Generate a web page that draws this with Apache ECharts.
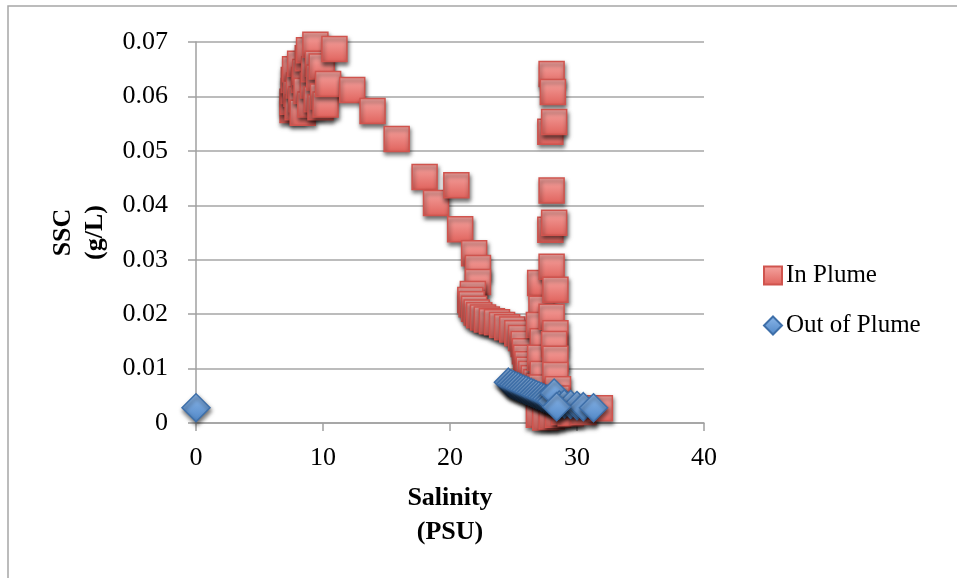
<!DOCTYPE html>
<html>
<head>
<meta charset="utf-8">
<script src="https://cdn.jsdelivr.net/npm/echarts@6/dist/echarts.min.js"></script>
<style>html,body{margin:0;padding:0;background:#fff}#c{width:957px;height:578px}</style>
</head>
<body>
<div id="c"></div>
<script>
// Data: [salinity (PSU), SSC (g/L)]
var inPlume = [
  [7.6,0.0575],[7.6,0.0590],[7.7,0.0610],[7.7,0.0630],[7.8,0.0650],[7.9,0.0605],[8.0,0.0580],
  [8.1,0.0620],[8.2,0.0660],[8.3,0.0595],[8.4,0.0570],[8.5,0.0630],[8.6,0.0645],[8.7,0.0610],
  [8.8,0.0670],[8.9,0.0685],[9.0,0.0585],[9.1,0.0702],[9.2,0.0620],[9.3,0.0650],[9.4,0.0695],
  [9.5,0.0595],[9.6,0.0660],[9.7,0.0635],[9.8,0.0580],[9.9,0.0655],[10.0,0.0600],[10.2,0.0585],
  [10.4,0.0623],[10.9,0.0687],[12.3,0.0612],[13.9,0.0573],[15.8,0.0522],[18.0,0.0452],
  [18.9,0.0404],[20.5,0.0437],[20.8,0.0356],[21.9,0.0312],[22.2,0.0285],[22.2,0.0259],
  [21.8,0.0237],[21.6,0.0226],[21.7,0.0218],[21.9,0.0210],[22.1,0.0203],[22.3,0.0198],
  [22.6,0.0194],[22.9,0.0190],[23.3,0.0187],[23.7,0.0185],[24.1,0.0180],[24.5,0.0176],
  [24.9,0.0172],[25.3,0.0165],[25.6,0.0156],[25.8,0.0145],[25.9,0.0132],[26.0,0.0120],
  [26.1,0.0108],[26.2,0.0098],[26.4,0.0090],[26.6,0.0082],[26.8,0.0075],[27.0,0.0068],
  [27.1,0.0060],[27.1,0.0257],[27.2,0.0210],[27.0,0.0180],[27.3,0.0150],[27.1,0.0120],
  [27.3,0.0090],[27.2,0.0065],
  [28.0,0.0641],[28.1,0.0608],[27.9,0.0535],[28.2,0.0553],[28.0,0.0427],[27.9,0.0355],
  [28.2,0.0368],[28.0,0.0287],[28.3,0.0245],[28.0,0.0195],[28.3,0.0165],[28.2,0.0145],
  [28.3,0.0118],[28.3,0.0088],[28.5,0.0062],[28.4,0.0045],
  [27.0,0.0015],[27.5,0.0010],[28.0,0.0012],[28.5,0.0015],[29.0,0.0020],[29.5,0.0018],
  [30.5,0.0020],[31.8,0.0027]
];
var outPlume = [
  [0.0,0.0028],
  [24.6,0.0075],[24.8,0.0072],[25.0,0.0070],[25.2,0.0068],[25.4,0.0066],[25.6,0.0064],
  [25.8,0.0062],[26.0,0.0060],[26.2,0.0058],[26.4,0.0056],[26.6,0.0054],[26.8,0.0052],
  [27.0,0.0050],[27.2,0.0048],[27.4,0.0046],[27.6,0.0044],[27.8,0.0042],[28.0,0.0040],
  [28.2,0.0055],[28.6,0.0033],[29.0,0.0035],[29.5,0.0034],[30.0,0.0032],[30.5,0.0030],
  [28.4,0.0030],[31.3,0.0028]
];
var xTicks = [0,10,20,30,40];
var yTicks = ['0','0.01','0.02','0.03','0.04','0.05','0.06','0.07'];
var seriesNames = ['In Plume','Out of Plume'];

var FONT = '"Liberation Serif", "DejaVu Serif", serif';
var chart = echarts.init(document.getElementById('c'), null, {renderer:'canvas'});
var redFill = new echarts.graphic.LinearGradient(0,0,0,1,[{offset:0,color:'#f5a6a2'},{offset:1,color:'#e0625c'}]);
var blueFill = new echarts.graphic.LinearGradient(0,0,0,1,[{offset:0,color:'#8db8ea'},{offset:1,color:'#4f86c6'}]);
chart.setOption({
  animation:false,
  backgroundColor:'#ffffff',
  graphic:[{type:'rect',shape:{x:8,y:6,width:1200,height:1200},style:{fill:'none',stroke:'#a6a6a6',lineWidth:1.5},silent:true}],
  grid:{left:196,top:42,width:508,height:381,containLabel:false},
  legend:{
    orient:'vertical',left:758,top:258,itemWidth:18,itemHeight:18,itemGap:25,
    textStyle:{fontFamily:FONT,fontSize:25,color:'#000',padding:[0,0,0,-1]},
    data:seriesNames
  },
  xAxis:{
    type:'value',min:0,max:40,interval:10,
    name:'Salinity\n(PSU)',nameLocation:'middle',nameGap:58,
    nameTextStyle:{fontFamily:FONT,fontSize:26,fontWeight:'bold',color:'#000',lineHeight:34},
    axisLine:{show:true,onZero:false,lineStyle:{color:'#a0a0a0',width:1.5}},
    axisTick:{show:true,length:8,lineStyle:{color:'#a0a0a0',width:1.5}},
    axisLabel:{fontFamily:FONT,fontSize:26,color:'#000',margin:22,
      formatter:function(v){return xTicks.indexOf(v)>=0?String(v):'';}},
    splitLine:{show:false}
  },
  yAxis:{
    type:'value',min:0,max:0.07,interval:0.01,
    name:'SSC\n(g/L)',nameLocation:'middle',nameGap:84,nameRotate:90,
    nameTextStyle:{fontFamily:FONT,fontSize:26,fontWeight:'bold',color:'#000',lineHeight:32},
    axisLine:{show:true,lineStyle:{color:'#a0a0a0',width:1.5}},
    axisTick:{show:true,length:8,lineStyle:{color:'#a0a0a0',width:1.5}},
    axisLabel:{fontFamily:FONT,fontSize:26,color:'#000',margin:28,
      formatter:function(v){var i=Math.round(v*100);return yTicks[i]!==undefined?yTicks[i]:'';}},
    splitLine:{show:true,lineStyle:{color:'#a6a6a6',width:1.5}}
  },
  series:[
    {name:seriesNames[0],type:'scatter',symbol:'rect',symbolSize:25,data:inPlume,
     itemStyle:{color:redFill,borderColor:'#d0544e',borderWidth:1.5,shadowBlur:4,shadowOffsetX:1,shadowOffsetY:3,shadowColor:'rgba(0,0,0,0.55)',opacity:1}},
    {name:seriesNames[1],type:'scatter',symbol:'diamond',symbolSize:28,data:outPlume,
     itemStyle:{color:blueFill,borderColor:'#3e6fa9',borderWidth:1.5,shadowBlur:4,shadowOffsetX:1,shadowOffsetY:3,shadowColor:'rgba(0,0,0,0.55)',opacity:1}}
  ]
});
</script>
</body>
</html>
